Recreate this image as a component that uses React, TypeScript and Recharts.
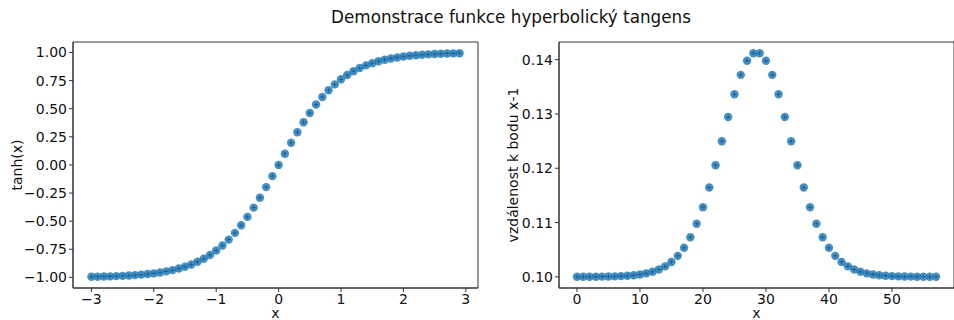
import { ReferenceArea, Scatter, ScatterChart, XAxis, YAxis } from 'recharts';

// x = -3.0 .. 2.9 po 0.1
const xValues = [
  -3.0, -2.9, -2.8, -2.7, -2.6, -2.5, -2.4, -2.3, -2.2, -2.1,
  -2.0, -1.9, -1.8, -1.7, -1.6, -1.5, -1.4, -1.3, -1.2, -1.1,
  -1.0, -0.9, -0.8, -0.7, -0.6, -0.5, -0.4, -0.3, -0.2, -0.1,
  0.0, 0.1, 0.2, 0.3, 0.4, 0.5, 0.6, 0.7, 0.8, 0.9,
  1.0, 1.1, 1.2, 1.3, 1.4, 1.5, 1.6, 1.7, 1.8, 1.9,
  2.0, 2.1, 2.2, 2.3, 2.4, 2.5, 2.6, 2.7, 2.8, 2.9,
];

const tanhValues = [
  -0.9951, -0.9940, -0.9926, -0.9910, -0.9890, -0.9866, -0.9837, -0.9801, -0.9757, -0.9705,
  -0.9640, -0.9562, -0.9468, -0.9354, -0.9217, -0.9051, -0.8854, -0.8617, -0.8337, -0.8005,
  -0.7616, -0.7163, -0.6640, -0.6044, -0.5370, -0.4621, -0.3799, -0.2913, -0.1974, -0.0997,
  0.0, 0.0997, 0.1974, 0.2913, 0.3799, 0.4621, 0.5370, 0.6044, 0.6640, 0.7163,
  0.7616, 0.8005, 0.8337, 0.8617, 0.8854, 0.9051, 0.9217, 0.9354, 0.9468, 0.9562,
  0.9640, 0.9705, 0.9757, 0.9801, 0.9837, 0.9866, 0.9890, 0.9910, 0.9926, 0.9940,
];

// vzdálenost k předchozímu bodu, indexy 0..57
const distanceValues = [
  0.10001, 0.10001, 0.10002, 0.10003, 0.10004, 0.10006, 0.10009, 0.10014, 0.10021, 0.10030,
  0.10044, 0.10065, 0.10094, 0.10136, 0.10194, 0.10275, 0.10387, 0.10535, 0.10730, 0.10978,
  0.11283, 0.11645, 0.12055, 0.12496, 0.12943, 0.13363, 0.13720, 0.13981, 0.14119,
  0.14119, 0.13981, 0.13720, 0.13363, 0.12943, 0.12496, 0.12055, 0.11645, 0.11283, 0.10978,
  0.10730, 0.10535, 0.10387, 0.10275, 0.10194, 0.10136, 0.10094, 0.10065, 0.10044, 0.10030,
  0.10021, 0.10014, 0.10009, 0.10006, 0.10004, 0.10003, 0.10002, 0.10001, 0.10001,
];

const leftXTicks = [-3, -2, -1, 0, 1, 2, 3];
const leftYTicks = [-1, -0.75, -0.5, -0.25, 0, 0.25, 0.5, 0.75, 1];
const rightXTicks = [0, 10, 20, 30, 40, 50];
const rightYTicks = [0.1, 0.11, 0.12, 0.13, 0.14];

const leftXDomain: [number, number] = [-3.295, 3.195];
const leftYDomain: [number, number] = [-1.0945, 1.0934];
const rightXDomain: [number, number] = [-2.85, 59.85];
const rightYDomain: [number, number] = [0.09795, 0.14325];

const tanhData = xValues.map((x, i) => ({ x, y: tanhValues[i] }));
const distanceData = distanceValues.map((y, i) => ({ x: i, y }));

const FONT = '"DejaVu Sans", sans-serif';
const AXIS = '#333';
const BLUE = '#1f77b4';

const minus = (s: string) => s.replace('-', '\u2212');

function Dot(props: any) {
  const { cx, cy } = props;
  if (cx == null || cy == null) return null;
  return (
    <g>
      <circle cx={cx} cy={cy} r={4.2} fill={BLUE} fillOpacity={0.82} />
      <path
        d={`M${cx - 2} ${cy}H${cx + 2}M${cx} ${cy - 2}V${cy + 2}`}
        stroke="#1a5f96"
        strokeWidth={1}
      />
    </g>
  );
}

const tickStyle = { fill: '#111', fontSize: 14, fontFamily: FONT };

function yLabel(text: string, dx: number) {
  return (p: any) => {
    const vb = p.viewBox || {};
    const x = (vb.x ?? 0) + dx;
    const y = (vb.y ?? 0) + (vb.height ?? 0) / 2;
    return (
      <text
        x={x}
        y={y}
        transform={`rotate(-90 ${x} ${y})`}
        textAnchor="middle"
        dominantBaseline="central"
        fontSize={14}
        fontFamily={FONT}
        fill="#111"
      >
        {text}
      </text>
    );
  };
}

function xLabel(text: string) {
  return (p: any) => {
    const vb = p.viewBox || {};
    const x = (vb.x ?? 0) + (vb.width ?? 0) / 2;
    const y = (vb.y ?? 0) + 25;
    return (
      <text x={x} y={y} textAnchor="middle" dominantBaseline="central" fontSize={14} fontFamily={FONT} fill="#111">
        {text}
      </text>
    );
  };
}

export default function App() {
  return (
    <div style={{ position: 'relative', width: 954, height: 320, background: '#fff', overflow: 'hidden' }}>
      <style>{'body{margin:0}'}</style>
      <div
        style={{
          position: 'absolute',
          left: 0,
          width: 1022,
          top: 7,
          textAlign: 'center',
          fontFamily: FONT,
          fontSize: 16.8,
          color: '#111',
        }}
      >
        Demonstrace funkce hyperbolický tangens
      </div>

      <div style={{ position: 'absolute', left: 0, top: 0 }}>
        <ScatterChart width={480} height={320} margin={{ top: 42, right: 2, bottom: 0, left: 0 }}>
          <XAxis
            type="number"
            dataKey="x"
            domain={leftXDomain}
            ticks={leftXTicks}
            tickFormatter={(v) => minus(String(v))}
            height={32}
            tick={tickStyle}
            tickSize={4}
            stroke={AXIS}
            label={xLabel('x')}
          />
          <YAxis
            type="number"
            dataKey="y"
            domain={leftYDomain}
            ticks={leftYTicks}
            tickFormatter={(v) => minus(Number(v).toFixed(2))}
            width={73}
            tick={tickStyle}
            tickSize={4}
            stroke={AXIS}
            label={yLabel('tanh(x)', 17)}
          />
          <ReferenceArea
            x1={leftXDomain[0]}
            x2={leftXDomain[1]}
            y1={leftYDomain[0]}
            y2={leftYDomain[1]}
            fill="none"
            stroke={AXIS}
            strokeWidth={1}
          />
          <Scatter data={tanhData} shape={Dot} isAnimationActive={false} />
        </ScatterChart>
      </div>

      <div style={{ position: 'absolute', left: 480, top: 0 }}>
        <ScatterChart width={474} height={320} margin={{ top: 42, right: 0, bottom: 0, left: 0 }}>
          <XAxis
            type="number"
            dataKey="x"
            domain={rightXDomain}
            ticks={rightXTicks}
            height={32}
            tick={tickStyle}
            tickSize={4}
            stroke={AXIS}
            label={xLabel('x')}
          />
          <YAxis
            type="number"
            dataKey="y"
            domain={rightYDomain}
            ticks={rightYTicks}
            tickFormatter={(v) => Number(v).toFixed(2)}
            width={79}
            tick={tickStyle}
            tickSize={4}
            stroke={AXIS}
            label={yLabel('vzdálenost k bodu x-1', 33)}
          />
          <ReferenceArea
            x1={rightXDomain[0]}
            x2={rightXDomain[1]}
            y1={rightYDomain[0]}
            y2={rightYDomain[1]}
            fill="none"
            stroke={AXIS}
            strokeWidth={1}
          />
          <Scatter data={distanceData} shape={Dot} isAnimationActive={false} />
        </ScatterChart>
      </div>
    </div>
  );
}
